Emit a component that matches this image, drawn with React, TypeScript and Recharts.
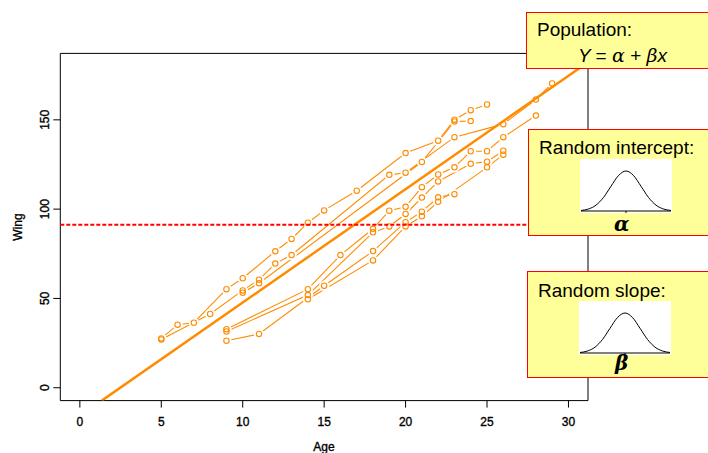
import React from 'react';
import {
  ComposedChart, LineChart, Line, XAxis, YAxis, ReferenceLine, ReferenceArea,
} from 'recharts';

// one row of ages / wing lengths per bird
const ageA = [5, 6, 7, 9, 10, 12, 13, 14, 15, 17, 20, 22, 23, 24, 25];
const wingA = [27.6, 35.3, 36.4, 55.2, 61.3, 76.4, 83.3, 92.4, 99.3, 110.3, 131.4, 138.3, 150.1, 155.4, 158.6];
const ageB = [5, 8, 10, 11, 12, 13, 19, 20, 23, 26, 28, 29];
const wingB = [27.0, 41.3, 54.5, 60.5, 69.5, 74.3, 119.2, 120.4, 140.3, 147.6, 161.4, 170.4];
const ageC = [10, 11, 21, 23, 24];
const wingC = [53.2, 58.5, 126.4, 149.1, 149.3];
const ageD = [9, 14, 16, 18, 19, 20, 21, 22, 23, 24, 25, 26, 28];
const wingD = [32.8, 55.2, 74.3, 89.0, 99.1, 101.3, 112.3, 119.4, 123.4, 132.4, 132.4, 140.3, 152.4];
const ageE = [9, 14, 18, 19, 20, 21, 22, 24, 25, 26];
const wingE = [31.5, 51.9, 87.0, 90.3, 97.3, 106.5, 115.5, 125.4, 126.6, 132.7];
const ageF = [9, 11, 15, 18, 20, 21, 22, 23];
const wingF = [26.3, 30.1, 57.1, 76.5, 92.7, 98.6, 106.6, 108.4];
const ageG = [14, 18, 20, 21, 22, 25, 26];
const wingG = [49.5, 71.3, 90.3, 96.0, 104.1, 123.4, 130.5];

// population line Y = a + b x, end points
const popAge = [1.35, 31.2];
const popWing = [-7.2, 182.3];

const meanWing = 91.3;

const xTicks = [0, 5, 10, 15, 20, 25, 30];
const yTicks = [0, 50, 100, 150];

// rough normal density shape shown in the side boxes
const bellShape = [0.013, 0.05, 0.146, 0.339, 0.619, 0.887, 1, 0.887, 0.619, 0.339, 0.146, 0.05, 0.013];

const ORANGE = '#ff8c00';
const FONT = '"Liberation Sans", Arial, Helvetica, sans-serif';

const toRows = (xs: number[], ys: number[]) => xs.map((x, i) => ({ x, y: ys[i] }));

const birds = [
  toRows(ageA, wingA), toRows(ageB, wingB), toRows(ageC, wingC), toRows(ageD, wingD),
  toRows(ageE, wingE), toRows(ageF, wingF), toRows(ageG, wingG),
];
const popSegment = toRows(popAge, popWing);
const bellRows = bellShape.map((d, i) => ({ i, d }));

// white disc under each point so the joining lines stop short, like R's type="b"
function Halo(p: any) {
  if (p.cx == null || p.cy == null) return <g key={`h${p.index}`} />;
  return <circle key={`h${p.index}`} cx={p.cx} cy={p.cy} r={5.2} fill="#fff" stroke="none" />;
}

function Ring(p: any) {
  if (p.cx == null || p.cy == null) return <g key={`r${p.index}`} />;
  return <circle key={`r${p.index}`} cx={p.cx} cy={p.cy} r={2.7} fill="none" stroke={ORANGE} strokeWidth={1.1} />;
}

const tickText = { fontSize: 12, fontFamily: FONT, fill: '#000', stroke: '#000', strokeWidth: 0.35 };

function XTick({ x, payload }: any) {
  return <text x={x} y={426} textAnchor="middle" {...tickText}>{payload.value}</text>;
}

function YTick({ y, payload }: any) {
  return (
    <text transform={`translate(49,${y}) rotate(-90)`} textAnchor="middle" {...tickText}>
      {payload.value}
    </text>
  );
}

function AgeLabel() {
  return <text x={324} y={451} textAnchor="middle" {...tickText}>Age</text>;
}

function WingLabel() {
  return <text transform="translate(22,227) rotate(-90)" textAnchor="middle" {...tickText}>Wing</text>;
}

function Bell() {
  return (
    <div style={{ position: 'absolute', left: 51, top: 29, width: 92, height: 54, background: '#fff' }}>
      <LineChart width={92} height={54} data={bellRows} margin={{ top: 12, right: 1, bottom: 0, left: 1 }}>
        <XAxis dataKey="i" type="number" domain={[0, 12]} hide />
        <YAxis type="number" domain={[-0.05, 1]} hide />
        <ReferenceLine y={0} stroke="#000" strokeWidth={1} />
        <ReferenceLine segment={[{ x: 6, y: 0 }, { x: 6, y: -0.05 }]} stroke="#000" strokeWidth={1} />
        <Line dataKey="d" type="monotone" stroke="#000" strokeWidth={1} dot={false} activeDot={false} isAnimationActive={false} />
      </LineChart>
    </div>
  );
}

const boxStyle: React.CSSProperties = {
  position: 'absolute', background: '#ffff99', border: '1.5px solid #ff0000',
  boxSizing: 'border-box', width: 200,
};

const titleStyle: React.CSSProperties = {
  position: 'absolute', left: 10, fontSize: 19, lineHeight: '20px', color: '#000', whiteSpace: 'nowrap',
};

const greek: React.CSSProperties = {
  position: 'absolute', fontSize: 20, lineHeight: '22px', fontWeight: 'bold', fontStyle: 'italic',
  fontFamily: '"DejaVu Serif", serif',
};

export default function App() {
  // zIndex is only honoured by recent recharts 3 releases; older ones ignore it
  const onTop: any = { zIndex: 1500 };
  return (
    <div style={{ position: 'absolute', left: 0, top: 0, width: 708, height: 453, overflow: 'hidden', background: '#fff', fontFamily: FONT }}>
      <ComposedChart width={708} height={453} margin={{ top: 53.4, right: 120, bottom: 0, left: 0 }}>
        <XAxis
          type="number" dataKey="x" domain={[-1.2, 31.2]} allowDataOverflow ticks={xTicks} interval={0}
          axisLine={false} tickLine={{ stroke: '#000' }} tickSize={7} height={52.4}
          tick={<XTick />} label={<AgeLabel />}
        />
        <YAxis
          type="number" domain={[-7.2, 187.2]} allowDataOverflow ticks={yTicks} interval={0}
          axisLine={false} tickLine={{ stroke: '#000' }} tickSize={7} width={60.3}
          tick={<YTick />} label={<WingLabel />}
        />
        <ReferenceArea x1={-1.2} x2={31.2} y1={-7.2} y2={187.2} fill="none" stroke="#000" strokeWidth={1} ifOverflow="visible" />
        {birds.map((rows, k) => (
          <Line
            key={`l${k}`} data={rows} dataKey="y" stroke={ORANGE} strokeWidth={1.1}
            dot={Halo} activeDot={false} isAnimationActive={false} legendType="none"
          />
        ))}
        {birds.map((rows, k) => (
          <Line
            key={`p${k}`} data={rows} dataKey="y" stroke="none"
            dot={Ring} activeDot={false} isAnimationActive={false} legendType="none"
          />
        ))}
        <ReferenceLine segment={popSegment} stroke={ORANGE} strokeWidth={2.5} ifOverflow="hidden" {...onTop} />
        <ReferenceLine y={meanWing} stroke="#ff0000" strokeWidth={2} strokeDasharray="4 2" {...onTop} />
      </ComposedChart>

      <div style={{ ...boxStyle, left: 526, top: 12, height: 57 }}>
        <div style={{ ...titleStyle, top: 7 }}>Population:</div>
        <div style={{ position: 'absolute', left: 51, top: 32, fontSize: 19, lineHeight: '20px', whiteSpace: 'nowrap', fontStyle: 'italic' }}>
          Y <span style={{ fontStyle: 'normal' }}>=</span> <span style={{ fontFamily: '"DejaVu Serif", serif' }}>α</span>{' '}
          <span style={{ fontStyle: 'normal' }}>+</span> <span style={{ fontFamily: '"DejaVu Serif", serif' }}>β</span>x
        </div>
      </div>

      <div style={{ ...boxStyle, left: 528, top: 129, height: 107 }}>
        <div style={{ ...titleStyle, top: 8 }}>Random intercept:</div>
        <Bell />
        <div style={{ ...greek, left: 85, top: 83 }}>α</div>
      </div>

      <div style={{ ...boxStyle, left: 527, top: 271, height: 107 }}>
        <div style={{ ...titleStyle, top: 9 }}>Random slope:</div>
        <Bell />
        <div style={{ ...greek, left: 87, top: 80 }}>β</div>
      </div>
    </div>
  );
}
